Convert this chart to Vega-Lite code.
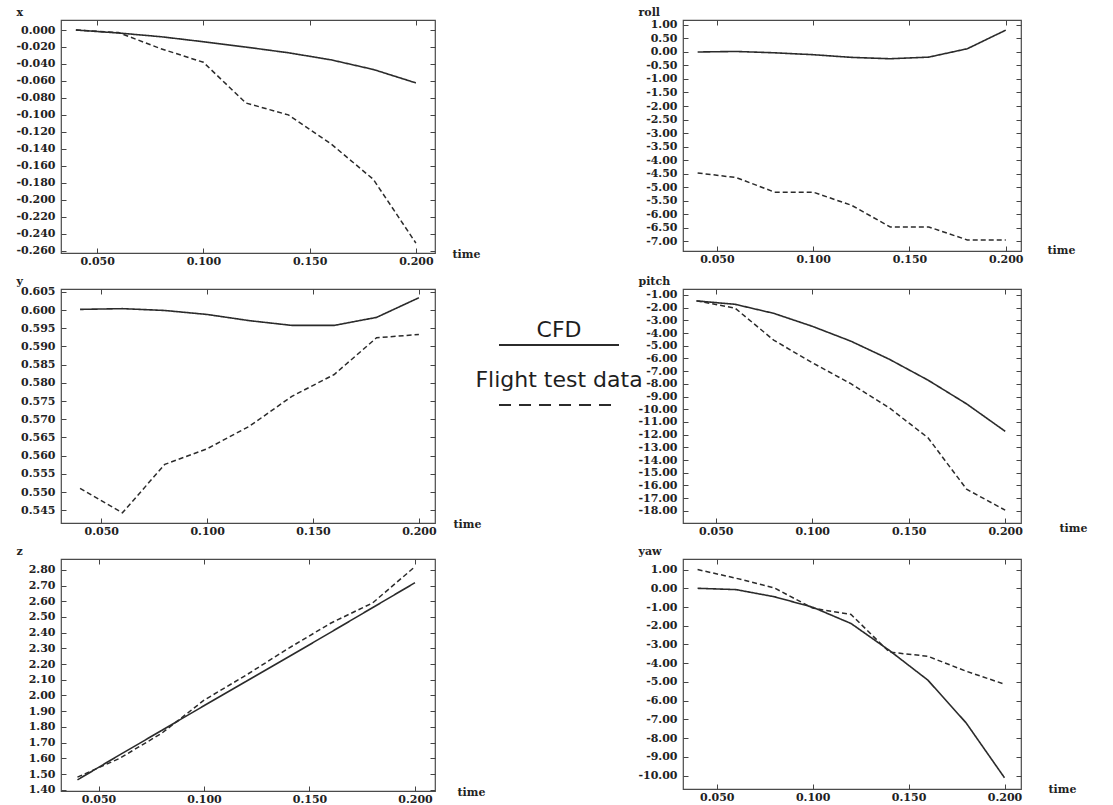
{
  "$schema": "https://vega.github.io/schema/vega-lite/v6.json",
  "background": "white",
  "padding": {"left": 15, "top": 5, "right": 5, "bottom": 0},
  "bounds": "flush",
  "columns": 3,
  "spacing": {"row": 36, "column": 64},
  "data": {"values": [
    {"var":"x","series":"CFD","time":0.04,"value":0},
    {"var":"x","series":"CFD","time":0.06,"value":-0.0035},
    {"var":"x","series":"CFD","time":0.08,"value":-0.0079},
    {"var":"x","series":"CFD","time":0.10,"value":-0.0138},
    {"var":"x","series":"CFD","time":0.12,"value":-0.0201},
    {"var":"x","series":"CFD","time":0.14,"value":-0.0268},
    {"var":"x","series":"CFD","time":0.16,"value":-0.0351},
    {"var":"x","series":"CFD","time":0.18,"value":-0.0465},
    {"var":"x","series":"CFD","time":0.20,"value":-0.0623},
    {"var":"x","series":"Flight test data","time":0.04,"value":0},
    {"var":"x","series":"Flight test data","time":0.06,"value":-0.003},
    {"var":"x","series":"Flight test data","time":0.08,"value":-0.022},
    {"var":"x","series":"Flight test data","time":0.10,"value":-0.038},
    {"var":"x","series":"Flight test data","time":0.12,"value":-0.086},
    {"var":"x","series":"Flight test data","time":0.14,"value":-0.100},
    {"var":"x","series":"Flight test data","time":0.16,"value":-0.134},
    {"var":"x","series":"Flight test data","time":0.18,"value":-0.176},
    {"var":"x","series":"Flight test data","time":0.20,"value":-0.251},
    {"var":"roll","series":"CFD","time":0.04,"value":0.0},
    {"var":"roll","series":"CFD","time":0.06,"value":0.02},
    {"var":"roll","series":"CFD","time":0.08,"value":-0.03},
    {"var":"roll","series":"CFD","time":0.10,"value":-0.10},
    {"var":"roll","series":"CFD","time":0.12,"value":-0.20},
    {"var":"roll","series":"CFD","time":0.14,"value":-0.25},
    {"var":"roll","series":"CFD","time":0.16,"value":-0.19},
    {"var":"roll","series":"CFD","time":0.18,"value":0.12},
    {"var":"roll","series":"CFD","time":0.20,"value":0.81},
    {"var":"roll","series":"Flight test data","time":0.04,"value":-4.48},
    {"var":"roll","series":"Flight test data","time":0.06,"value":-4.65},
    {"var":"roll","series":"Flight test data","time":0.08,"value":-5.19},
    {"var":"roll","series":"Flight test data","time":0.10,"value":-5.19},
    {"var":"roll","series":"Flight test data","time":0.12,"value":-5.68},
    {"var":"roll","series":"Flight test data","time":0.14,"value":-6.48},
    {"var":"roll","series":"Flight test data","time":0.16,"value":-6.48},
    {"var":"roll","series":"Flight test data","time":0.18,"value":-6.96},
    {"var":"roll","series":"Flight test data","time":0.20,"value":-6.96},
    {"var":"y","series":"CFD","time":0.04,"value":0.6002},
    {"var":"y","series":"CFD","time":0.06,"value":0.6004},
    {"var":"y","series":"CFD","time":0.08,"value":0.5999},
    {"var":"y","series":"CFD","time":0.10,"value":0.5988},
    {"var":"y","series":"CFD","time":0.12,"value":0.5971},
    {"var":"y","series":"CFD","time":0.14,"value":0.5958},
    {"var":"y","series":"CFD","time":0.16,"value":0.5958},
    {"var":"y","series":"CFD","time":0.18,"value":0.5980},
    {"var":"y","series":"CFD","time":0.20,"value":0.6034},
    {"var":"y","series":"Flight test data","time":0.04,"value":0.5510},
    {"var":"y","series":"Flight test data","time":0.06,"value":0.5443},
    {"var":"y","series":"Flight test data","time":0.08,"value":0.5576},
    {"var":"y","series":"Flight test data","time":0.10,"value":0.5619},
    {"var":"y","series":"Flight test data","time":0.12,"value":0.5681},
    {"var":"y","series":"Flight test data","time":0.14,"value":0.5763},
    {"var":"y","series":"Flight test data","time":0.16,"value":0.5823},
    {"var":"y","series":"Flight test data","time":0.18,"value":0.5924},
    {"var":"y","series":"Flight test data","time":0.20,"value":0.5933},
    {"var":"pitch","series":"CFD","time":0.04,"value":-1.47},
    {"var":"pitch","series":"CFD","time":0.06,"value":-1.74},
    {"var":"pitch","series":"CFD","time":0.08,"value":-2.45},
    {"var":"pitch","series":"CFD","time":0.10,"value":-3.47},
    {"var":"pitch","series":"CFD","time":0.12,"value":-4.64},
    {"var":"pitch","series":"CFD","time":0.14,"value":-6.07},
    {"var":"pitch","series":"CFD","time":0.16,"value":-7.71},
    {"var":"pitch","series":"CFD","time":0.18,"value":-9.58},
    {"var":"pitch","series":"CFD","time":0.20,"value":-11.74},
    {"var":"pitch","series":"Flight test data","time":0.04,"value":-1.47},
    {"var":"pitch","series":"Flight test data","time":0.06,"value":-2.04},
    {"var":"pitch","series":"Flight test data","time":0.08,"value":-4.56},
    {"var":"pitch","series":"Flight test data","time":0.10,"value":-6.34},
    {"var":"pitch","series":"Flight test data","time":0.12,"value":-7.99},
    {"var":"pitch","series":"Flight test data","time":0.14,"value":-9.90},
    {"var":"pitch","series":"Flight test data","time":0.16,"value":-12.25},
    {"var":"pitch","series":"Flight test data","time":0.18,"value":-16.30},
    {"var":"pitch","series":"Flight test data","time":0.20,"value":-17.95},
    {"var":"z","series":"CFD","time":0.04,"value":1.463},
    {"var":"z","series":"CFD","time":0.06,"value":1.622},
    {"var":"z","series":"CFD","time":0.08,"value":1.778},
    {"var":"z","series":"CFD","time":0.10,"value":1.935},
    {"var":"z","series":"CFD","time":0.12,"value":2.090},
    {"var":"z","series":"CFD","time":0.14,"value":2.245},
    {"var":"z","series":"CFD","time":0.16,"value":2.402},
    {"var":"z","series":"CFD","time":0.18,"value":2.560},
    {"var":"z","series":"CFD","time":0.20,"value":2.718},
    {"var":"z","series":"Flight test data","time":0.04,"value":1.480},
    {"var":"z","series":"Flight test data","time":0.06,"value":1.600},
    {"var":"z","series":"Flight test data","time":0.08,"value":1.760},
    {"var":"z","series":"Flight test data","time":0.10,"value":1.970},
    {"var":"z","series":"Flight test data","time":0.12,"value":2.130},
    {"var":"z","series":"Flight test data","time":0.14,"value":2.300},
    {"var":"z","series":"Flight test data","time":0.16,"value":2.460},
    {"var":"z","series":"Flight test data","time":0.18,"value":2.590},
    {"var":"z","series":"Flight test data","time":0.20,"value":2.820},
    {"var":"yaw","series":"CFD","time":0.04,"value":0.00},
    {"var":"yaw","series":"CFD","time":0.06,"value":-0.07},
    {"var":"yaw","series":"CFD","time":0.08,"value":-0.45},
    {"var":"yaw","series":"CFD","time":0.10,"value":-1.01},
    {"var":"yaw","series":"CFD","time":0.12,"value":-1.88},
    {"var":"yaw","series":"CFD","time":0.14,"value":-3.32},
    {"var":"yaw","series":"CFD","time":0.16,"value":-4.90},
    {"var":"yaw","series":"CFD","time":0.18,"value":-7.19},
    {"var":"yaw","series":"CFD","time":0.20,"value":-10.12},
    {"var":"yaw","series":"Flight test data","time":0.04,"value":1.00},
    {"var":"yaw","series":"Flight test data","time":0.06,"value":0.54},
    {"var":"yaw","series":"Flight test data","time":0.08,"value":0.02},
    {"var":"yaw","series":"Flight test data","time":0.10,"value":-1.06},
    {"var":"yaw","series":"Flight test data","time":0.12,"value":-1.40},
    {"var":"yaw","series":"Flight test data","time":0.14,"value":-3.41},
    {"var":"yaw","series":"Flight test data","time":0.16,"value":-3.63},
    {"var":"yaw","series":"Flight test data","time":0.18,"value":-4.43},
    {"var":"yaw","series":"Flight test data","time":0.20,"value":-5.12}
  ]},
  "concat": [
    {
      "width": 374, "height": 233,
      "transform": [{"filter": "datum.var === 'x'"}],
      "layer": [
        {"transform": [{"filter": "datum.series === 'CFD'"}],
         "mark": {"type": "line", "stroke": "#2b2b2b", "strokeWidth": 1.6},
         "encoding": {
           "x": {"field": "time", "type": "quantitative", "scale": {"domain": [0.033, 0.209], "nice": false, "zero": false},
                 "axis": {"values": [0.05, 0.1, 0.15, 0.2], "format": ".3f", "title": "time", "titleX": 391, "titleY": 1}},
           "y": {"field": "value", "type": "quantitative", "scale": {"domain": [-0.2627, 0.0118], "nice": false, "zero": false},
                 "axis": {"values": [0, -0.02, -0.04, -0.06, -0.08, -0.1, -0.12, -0.14, -0.16, -0.18, -0.2, -0.22, -0.24, -0.26],
                          "labelExpr": "replace(format(datum.value, '.3f'), '\u2212', '-')", "title": "x"}},
           "strokeDash": {"field": "series", "type": "nominal", "scale": {"domain": ["CFD", "Flight test data"], "range": [[1, 0], [5, 3]]}, "legend": null}
         }},
        {"transform": [{"filter": "datum.series === 'Flight test data'"}],
         "mark": {"type": "line", "stroke": "#2b2b2b", "strokeWidth": 1.5},
         "encoding": {
           "x": {"field": "time", "type": "quantitative", "scale": {"domain": [0.033, 0.209], "nice": false, "zero": false},
                 "axis": {"orient": "top", "labels": false, "title": null, "values": [0.05, 0.1, 0.15, 0.2]}},
           "y": {"field": "value", "type": "quantitative", "scale": {"domain": [-0.2627, 0.0118], "nice": false, "zero": false},
                 "axis": {"orient": "right", "labels": false, "title": null, "values": [0, -0.02, -0.04, -0.06, -0.08, -0.1, -0.12, -0.14, -0.16, -0.18, -0.2, -0.22, -0.24, -0.26]}},
           "strokeDash": {"field": "series", "type": "nominal", "scale": {"domain": ["CFD", "Flight test data"], "range": [[1, 0], [5, 3]]}, "legend": null}
         }}
      ],
      "resolve": {"axis": {"x": "independent", "y": "independent"}}
    },
    {
      "width": 120, "height": 10,
      "data": {"values": []},
      "mark": {"type": "text"},
      "encoding": {},
      "view": {"stroke": null}
    },
    {
      "width": 338, "height": 231,
      "transform": [{"filter": "datum.var === 'roll'"}],
      "layer": [
        {"transform": [{"filter": "datum.series === 'CFD'"}],
         "mark": {"type": "line", "stroke": "#2b2b2b", "strokeWidth": 1.6},
         "encoding": {
           "x": {"field": "time", "type": "quantitative", "scale": {"domain": [0.0324, 0.2079], "nice": false, "zero": false},
                 "axis": {"values": [0.05, 0.1, 0.15, 0.2], "format": ".3f", "title": "time", "titleX": 364, "titleY": -1}},
           "y": {"field": "value", "type": "quantitative", "scale": {"domain": [-7.37, 1.185], "nice": false, "zero": false},
                 "axis": {"values": [1, 0.5, 0, -0.5, -1, -1.5, -2, -2.5, -3, -3.5, -4, -4.5, -5, -5.5, -6, -6.5, -7],
                          "labelExpr": "replace(format(datum.value, '.2f'), '\u2212', '-')", "title": "roll"}},
           "strokeDash": {"field": "series", "type": "nominal", "scale": {"domain": ["CFD", "Flight test data"], "range": [[1, 0], [5, 3]]}, "legend": null}
         }},
        {"transform": [{"filter": "datum.series === 'Flight test data'"}],
         "mark": {"type": "line", "stroke": "#2b2b2b", "strokeWidth": 1.5},
         "encoding": {
           "x": {"field": "time", "type": "quantitative", "scale": {"domain": [0.0324, 0.2079], "nice": false, "zero": false},
                 "axis": {"orient": "top", "labels": false, "title": null, "values": [0.05, 0.1, 0.15, 0.2]}},
           "y": {"field": "value", "type": "quantitative", "scale": {"domain": [-7.37, 1.185], "nice": false, "zero": false},
                 "axis": {"orient": "right", "labels": false, "title": null, "values": [1, 0.5, 0, -0.5, -1, -1.5, -2, -2.5, -3, -3.5, -4, -4.5, -5, -5.5, -6, -6.5, -7]}},
           "strokeDash": {"field": "series", "type": "nominal", "scale": {"domain": ["CFD", "Flight test data"], "range": [[1, 0], [5, 3]]}, "legend": null}
         }}
      ],
      "resolve": {"axis": {"x": "independent", "y": "independent"}}
    },
    {
      "width": 374, "height": 234,
      "transform": [{"filter": "datum.var === 'y'"}],
      "layer": [
        {"transform": [{"filter": "datum.series === 'CFD'"}],
         "mark": {"type": "line", "stroke": "#2b2b2b", "strokeWidth": 1.6},
         "encoding": {
           "x": {"field": "time", "type": "quantitative", "scale": {"domain": [0.031, 0.2076], "nice": false, "zero": false},
                 "axis": {"values": [0.05, 0.1, 0.15, 0.2], "format": ".3f", "title": "time", "titleX": 392, "titleY": 1}},
           "y": {"field": "value", "type": "quantitative", "scale": {"domain": [0.5415, 0.6058], "nice": false, "zero": false},
                 "axis": {"values": [0.545, 0.55, 0.555, 0.56, 0.565, 0.57, 0.575, 0.58, 0.585, 0.59, 0.595, 0.6, 0.605],
                          "format": ".3f", "title": "y"}},
           "strokeDash": {"field": "series", "type": "nominal", "scale": {"domain": ["CFD", "Flight test data"], "range": [[1, 0], [5, 3]]}, "legend": null}
         }},
        {"transform": [{"filter": "datum.series === 'Flight test data'"}],
         "mark": {"type": "line", "stroke": "#2b2b2b", "strokeWidth": 1.5},
         "encoding": {
           "x": {"field": "time", "type": "quantitative", "scale": {"domain": [0.031, 0.2076], "nice": false, "zero": false},
                 "axis": {"orient": "top", "labels": false, "title": null, "values": [0.05, 0.1, 0.15, 0.2]}},
           "y": {"field": "value", "type": "quantitative", "scale": {"domain": [0.5415, 0.6058], "nice": false, "zero": false},
                 "axis": {"orient": "right", "labels": false, "title": null, "values": [0.545, 0.55, 0.555, 0.56, 0.565, 0.57, 0.575, 0.58, 0.585, 0.59, 0.595, 0.6, 0.605]}},
           "strokeDash": {"field": "series", "type": "nominal", "scale": {"domain": ["CFD", "Flight test data"], "range": [[1, 0], [5, 3]]}, "legend": null}
         }}
      ],
      "resolve": {"axis": {"x": "independent", "y": "independent"}}
    },
    {
      "width": 120, "height": 150,
      "data": {"values": [{"series": "CFD"}, {"series": "Flight test data"}]},
      "encoding": {
        "y": {"field": "series", "type": "nominal", "axis": null,
              "scale": {"type": "point", "domain": ["CFD", "Flight test data"], "padding": 1, "align": 0.48}}
      },
      "layer": [
        {"mark": {"type": "text", "font": "DejaVu Sans", "fontSize": 22, "baseline": "alphabetic", "align": "center", "color": "#1e1e1e"},
         "encoding": {
           "x": {"datum": 0.5, "type": "quantitative", "scale": {"domain": [0, 1], "nice": false, "zero": false}, "axis": null},
           "text": {"field": "series", "type": "nominal"}
         }},
        {"transform": [{"filter": "datum.series === 'CFD'"}],
         "mark": {"type": "rule", "yOffset": 8, "strokeWidth": 1.8, "color": "#2b2b2b"},
         "encoding": {
           "x": {"datum": 0, "type": "quantitative"},
           "x2": {"datum": 1}
         }},
        {"transform": [{"filter": "datum.series === 'Flight test data'"}],
         "mark": {"type": "rule", "yOffset": 18, "strokeWidth": 1.8, "color": "#2b2b2b", "strokeDash": [12, 8]},
         "encoding": {
           "x": {"datum": 0, "type": "quantitative"},
           "x2": {"datum": 1}
         }}
      ],
      "view": {"stroke": null}
    },
    {
      "width": 338, "height": 234,
      "transform": [{"filter": "datum.var === 'pitch'"}],
      "layer": [
        {"transform": [{"filter": "datum.series === 'CFD'"}],
         "mark": {"type": "line", "stroke": "#2b2b2b", "strokeWidth": 1.6},
         "encoding": {
           "x": {"field": "time", "type": "quantitative", "scale": {"domain": [0.033, 0.2082], "nice": false, "zero": false},
                 "axis": {"values": [0.05, 0.1, 0.15, 0.2], "format": ".3f", "title": "time", "titleX": 376, "titleY": 5}},
           "y": {"field": "value", "type": "quantitative", "scale": {"domain": [-18.96, -0.534], "nice": false, "zero": false},
                 "axis": {"values": [-1, -2, -3, -4, -5, -6, -7, -8, -9, -10, -11, -12, -13, -14, -15, -16, -17, -18],
                          "labelExpr": "replace(format(datum.value, '.2f'), '\u2212', '-')", "title": "pitch"}},
           "strokeDash": {"field": "series", "type": "nominal", "scale": {"domain": ["CFD", "Flight test data"], "range": [[1, 0], [5, 3]]}, "legend": null}
         }},
        {"transform": [{"filter": "datum.series === 'Flight test data'"}],
         "mark": {"type": "line", "stroke": "#2b2b2b", "strokeWidth": 1.5},
         "encoding": {
           "x": {"field": "time", "type": "quantitative", "scale": {"domain": [0.033, 0.2082], "nice": false, "zero": false},
                 "axis": {"orient": "top", "labels": false, "title": null, "values": [0.05, 0.1, 0.15, 0.2]}},
           "y": {"field": "value", "type": "quantitative", "scale": {"domain": [-18.96, -0.534], "nice": false, "zero": false},
                 "axis": {"orient": "right", "labels": false, "title": null, "values": [-1, -2, -3, -4, -5, -6, -7, -8, -9, -10, -11, -12, -13, -14, -15, -16, -17, -18]}},
           "strokeDash": {"field": "series", "type": "nominal", "scale": {"domain": ["CFD", "Flight test data"], "range": [[1, 0], [5, 3]]}, "legend": null}
         }}
      ],
      "resolve": {"axis": {"x": "independent", "y": "independent"}}
    },
    {
      "width": 374, "height": 232,
      "transform": [{"filter": "datum.var === 'z'"}],
      "layer": [
        {"transform": [{"filter": "datum.series === 'CFD'"}],
         "mark": {"type": "line", "stroke": "#2b2b2b", "strokeWidth": 1.6},
         "encoding": {
           "x": {"field": "time", "type": "quantitative", "scale": {"domain": [0.0322, 0.2095], "nice": false, "zero": false},
                 "axis": {"values": [0.05, 0.1, 0.15, 0.2], "format": ".3f", "title": "time", "titleX": 396, "titleY": 1}},
           "y": {"field": "value", "type": "quantitative", "scale": {"domain": [1.392, 2.869], "nice": false, "zero": false},
                 "axis": {"values": [1.4, 1.5, 1.6, 1.7, 1.8, 1.9, 2.0, 2.1, 2.2, 2.3, 2.4, 2.5, 2.6, 2.7, 2.8],
                          "format": ".2f", "title": "z"}},
           "strokeDash": {"field": "series", "type": "nominal", "scale": {"domain": ["CFD", "Flight test data"], "range": [[1, 0], [5, 3]]}, "legend": null}
         }},
        {"transform": [{"filter": "datum.series === 'Flight test data'"}],
         "mark": {"type": "line", "stroke": "#2b2b2b", "strokeWidth": 1.5},
         "encoding": {
           "x": {"field": "time", "type": "quantitative", "scale": {"domain": [0.0322, 0.2095], "nice": false, "zero": false},
                 "axis": {"orient": "top", "labels": false, "title": null, "values": [0.05, 0.1, 0.15, 0.2]}},
           "y": {"field": "value", "type": "quantitative", "scale": {"domain": [1.392, 2.869], "nice": false, "zero": false},
                 "axis": {"orient": "right", "labels": false, "title": null, "values": [1.4, 1.5, 1.6, 1.7, 1.8, 1.9, 2.0, 2.1, 2.2, 2.3, 2.4, 2.5, 2.6, 2.7, 2.8]}},
           "strokeDash": {"field": "series", "type": "nominal", "scale": {"domain": ["CFD", "Flight test data"], "range": [[1, 0], [5, 3]]}, "legend": null}
         }}
      ],
      "resolve": {"axis": {"x": "independent", "y": "independent"}}
    },
    {
      "width": 120, "height": 10,
      "data": {"values": []},
      "mark": {"type": "text"},
      "encoding": {},
      "view": {"stroke": null}
    },
    {
      "width": 338, "height": 230,
      "transform": [{"filter": "datum.var === 'yaw'"}],
      "layer": [
        {"transform": [{"filter": "datum.series === 'CFD'"}],
         "mark": {"type": "line", "stroke": "#2b2b2b", "strokeWidth": 1.6},
         "encoding": {
           "x": {"field": "time", "type": "quantitative", "scale": {"domain": [0.0324, 0.2086], "nice": false, "zero": false},
                 "axis": {"values": [0.05, 0.1, 0.15, 0.2], "format": ".3f", "title": "time", "titleX": 365, "titleY": 0}},
           "y": {"field": "value", "type": "quantitative", "scale": {"domain": [-10.72, 1.565], "nice": false, "zero": false},
                 "axis": {"values": [1, 0, -1, -2, -3, -4, -5, -6, -7, -8, -9, -10],
                          "labelExpr": "replace(format(datum.value, '.2f'), '\u2212', '-')", "title": "yaw"}},
           "strokeDash": {"field": "series", "type": "nominal", "scale": {"domain": ["CFD", "Flight test data"], "range": [[1, 0], [5, 3]]}, "legend": null}
         }},
        {"transform": [{"filter": "datum.series === 'Flight test data'"}],
         "mark": {"type": "line", "stroke": "#2b2b2b", "strokeWidth": 1.5},
         "encoding": {
           "x": {"field": "time", "type": "quantitative", "scale": {"domain": [0.0324, 0.2086], "nice": false, "zero": false},
                 "axis": {"orient": "top", "labels": false, "title": null, "values": [0.05, 0.1, 0.15, 0.2]}},
           "y": {"field": "value", "type": "quantitative", "scale": {"domain": [-10.72, 1.565], "nice": false, "zero": false},
                 "axis": {"orient": "right", "labels": false, "title": null, "values": [1, 0, -1, -2, -3, -4, -5, -6, -7, -8, -9, -10]}},
           "strokeDash": {"field": "series", "type": "nominal", "scale": {"domain": ["CFD", "Flight test data"], "range": [[1, 0], [5, 3]]}, "legend": null}
         }}
      ],
      "resolve": {"axis": {"x": "independent", "y": "independent"}}
    }
  ],
  "resolve": {"scale": {"x": "independent", "y": "independent"}},
  "config": {
    "view": {"stroke": "#4a4a4a", "strokeWidth": 1.2},
    "axis": {
      "grid": false, "domain": false,
      "tickSize": -5, "tickColor": "#444", "tickWidth": 1,
      "labelFont": "DejaVu Serif", "labelFontWeight": "bold", "labelFontSize": 11, "labelColor": "#222",
      "labelOverlap": false, "labelFlush": false,
      "titleFont": "DejaVu Serif", "titleFontWeight": "bold", "titleFontSize": 11, "titleColor": "#222"
    },
    "axisX": {"labelPadding": 7, "titleAngle": 0, "titleAlign": "left", "titleBaseline": "middle"},
    "axisY": {"labelPadding": 11, "titleAngle": 0, "titleAlign": "left", "titleBaseline": "middle", "titleX": -45, "titleY": -8}
  }
}
